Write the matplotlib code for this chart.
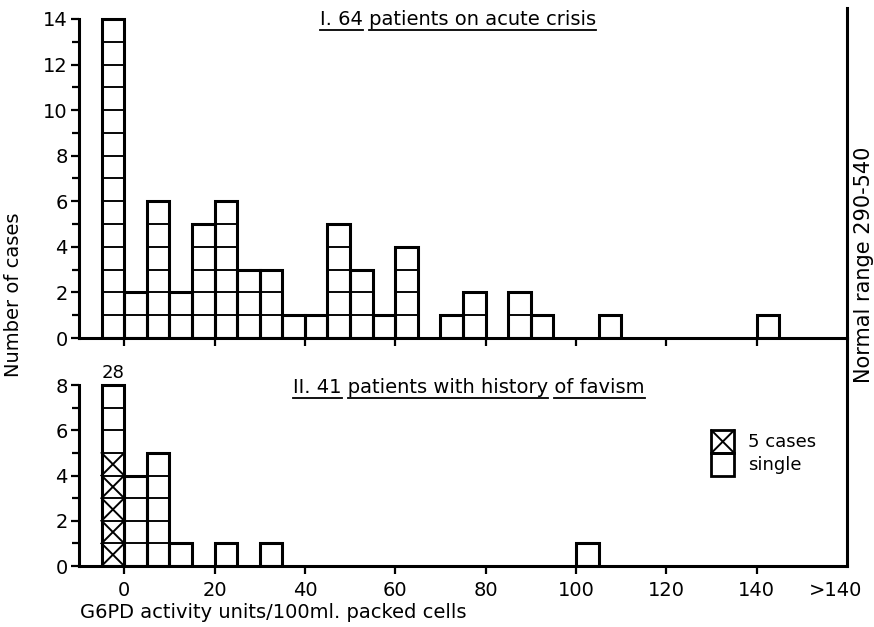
import numpy as np
import matplotlib
matplotlib.use("Agg")
import matplotlib.pyplot as plt
from matplotlib.patches import Rectangle
from matplotlib.lines import Line2D

plt.rcParams['font.family'] = ['DejaVu Sans']

# histogram bins are 5 units wide, the first one is the "0 or below" bin
bin_left = np.arange(-5, 145, 5)

# I. 64 patients on acute crisis
acute_counts = [14, 2, 6, 2, 5, 6, 3, 3, 1, 1, 5, 3, 1, 4, 0,
                1, 2, 0, 2, 1, 0, 0, 1, 0, 0, 0, 0, 0, 0, 1]

# II. 41 patients with history of favism (cells drawn, crossed cell = 5 cases)
favism_cells = [8, 4, 5, 1, 0, 1, 0, 1, 0, 0, 0, 0, 0, 0, 0,
                0, 0, 0, 0, 0, 0, 1, 0, 0, 0, 0, 0, 0, 0, 0]
favism_crossed = [5, 0, 0, 0, 0, 0, 0, 0, 0, 0, 0, 0, 0, 0, 0,
                  0, 0, 0, 0, 0, 0, 0, 0, 0, 0, 0, 0, 0, 0, 0]

xtick_pos = [0, 20, 40, 60, 80, 100, 120, 140, 157.5]
xtick_lab = ['0', '20', '40', '60', '80', '100', '120', '140', '>140']

FS = 14
W, H = 874, 627

fig = plt.figure(figsize=(W / 100, H / 100), dpi=100)
ax1 = fig.add_axes([79 / W, 1 - 338 / H, 768 / W, 330 / H])
ax2 = fig.add_axes([79 / W, 1 - 566 / H, 768 / W, 228 / H])
ax2.patch.set_visible(False)


def draw_cells(ax, counts, crossed=None):
    if crossed is None:
        crossed = [0] * len(counts)
    for left, n, c in zip(bin_left, counts, crossed):
        for k in range(n):
            ax.add_patch(Rectangle((left, k), 5, 1, fill=False, ec='black', lw=1.1))
            if k < c:
                ax.plot([left, left + 5], [k, k + 1], color='black', lw=1.4)
                ax.plot([left, left + 5], [k + 1, k], color='black', lw=1.4)
    nz = [i for i, n in enumerate(counts) if n > 0]
    ax.bar(bin_left[nz], np.array(counts)[nz], width=5, align='edge',
           fill=False, edgecolor='black', lw=2.2)


draw_cells(ax1, acute_counts)
draw_cells(ax2, favism_cells, favism_crossed)

for ax, ytop, ymax in [(ax1, 14, 14.48), (ax2, 8, 10.08)]:
    ax.set_xlim(-10, 160)
    ax.set_ylim(0, ymax)
    ax.spines['top'].set_visible(False)
    ax.spines['left'].set_bounds(0, ytop)
    for s in ax.spines.values():
        s.set_linewidth(2.2)
    ax.set_yticks(np.arange(0, ytop + 1, 2))
    ax.set_yticks(np.arange(1, ytop, 2), minor=True)
    ax.set_xticks(xtick_pos)
    ax.tick_params(axis='y', which='major', length=6, width=1.6, pad=2, labelsize=FS)
    ax.tick_params(axis='y', which='minor', length=5, width=1.6)
    ax.tick_params(axis='x', length=6, width=1.6, pad=5, labelsize=FS)
    ax.xaxis.get_major_ticks()[-1].tick1line.set_visible(False)

ax1.set_xticklabels([])
ax2.set_xticklabels(xtick_lab)

# total of the first favism bin over the bar
total0 = favism_crossed[0] * 5 + (favism_cells[0] - favism_crossed[0])
ax2.text(bin_left[0] + 2.5, favism_cells[0] + 0.12, str(total0),
         ha='center', va='bottom', fontsize=FS - 1)

# key for the cell symbols
ax2.add_patch(Rectangle((130, 5), 5, 1, fill=False, ec='black', lw=2))
ax2.plot([130, 135], [5, 6], color='black', lw=1.4)
ax2.plot([130, 135], [6, 5], color='black', lw=1.4)
ax2.add_patch(Rectangle((130, 4), 5, 1, fill=False, ec='black', lw=2))
ax2.text(138, 5.5, '5 cases', va='center', fontsize=FS - 1)
ax2.text(138, 4.45, 'single', va='center', fontsize=FS - 1)

fig.text(14 / W, 1 - 295 / H, 'Number of cases', rotation=90,
         ha='center', va='center', fontsize=FS)
fig.text(864 / W, 1 - 265 / H, 'Normal range 290-540', rotation=90,
         ha='center', va='center', fontsize=FS + 1)
fig.text(80 / W, 1 - 612 / H, 'G6PD activity units/100ml. packed cells',
         ha='left', va='center', fontsize=FS)

renderer = fig.canvas.get_renderer()


def width_px(s):
    t = fig.text(0, 0, s, fontsize=FS)
    w = t.get_window_extent(renderer).width
    t.remove()
    return w


def underlined_title(x, y, text, parts, y_line):
    fig.text(x / W, 1 - y / H, text, fontsize=FS, va='baseline')
    for p in parts:
        j = text.find(p) + len(p)
        end = x + width_px(text[:j])
        start = end - width_px(p)
        fig.add_artist(Line2D([start / W, end / W], [1 - y_line / H] * 2,
                              transform=fig.transFigure, color='black', lw=1.3))


underlined_title(320, 25, 'I. 64 patients on acute crisis',
                 ['I. 64', 'patients on acute crisis'], 30)
underlined_title(293, 393, 'II. 41 patients with history of favism',
                 ['II. 41', 'patients with history', 'of favism'], 398)

fig.savefig('out.png', dpi=100)
